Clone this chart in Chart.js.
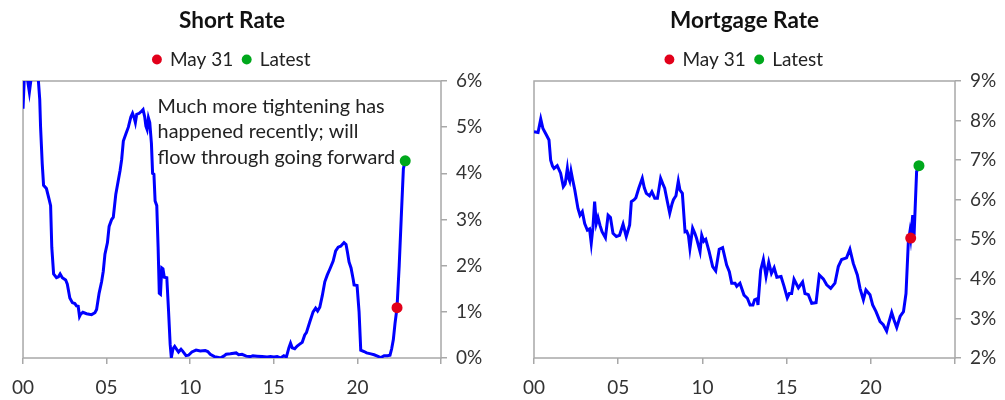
<!DOCTYPE html>
<html>
<head>
<meta charset="utf-8">
<script src="https://cdn.jsdelivr.net/npm/chart.js@4.4.1/dist/chart.umd.min.js"></script>
<style>
  html, body { margin: 0; padding: 0; background: #fff; }
  .panel { position: absolute; top: 0; height: 400px; }
  #left { left: 0; width: 500px; }
  #right { left: 500px; width: 505px; }
</style>
</head>
<body>
<div class="panel" id="left"><canvas id="shortChart" width="500" height="400"></canvas></div>
<div class="panel" id="right"><canvas id="mortgageChart" width="505" height="400"></canvas></div>
<script>
// short rate (decimal years)
const shortYears = [
  2000.00, 2000.08, 2000.20, 2000.30, 2000.38, 2000.50, 2000.70, 2000.90, 2001.00, 2001.05,
  2001.15, 2001.23, 2001.40, 2001.55, 2001.65, 2001.72, 2001.83, 2002.00, 2002.12, 2002.22,
  2002.35, 2002.55, 2002.65, 2002.80, 2002.95, 2003.10, 2003.20, 2003.30, 2003.38, 2003.45,
  2003.58, 2003.80, 2004.10, 2004.30, 2004.40, 2004.55, 2004.70, 2004.80, 2004.90, 2005.05,
  2005.15, 2005.30, 2005.40, 2005.55, 2005.70, 2005.80, 2005.90, 2006.00, 2006.15, 2006.30,
  2006.45, 2006.55, 2006.65, 2006.72, 2006.80, 2006.95, 2007.10, 2007.18, 2007.28, 2007.35,
  2007.42, 2007.50, 2007.58, 2007.68, 2007.75, 2007.83, 2007.90, 2008.00, 2008.08, 2008.15,
  2008.22, 2008.30, 2008.37, 2008.45, 2008.60, 2008.70, 2008.80, 2008.87, 2008.97, 2009.07,
  2009.20, 2009.30, 2009.45, 2009.55, 2009.75, 2009.90, 2010.10, 2010.35, 2010.60, 2010.90,
  2011.05, 2011.20, 2011.45, 2011.70, 2011.80, 2012.00, 2012.15, 2012.40, 2012.75, 2012.90,
  2013.10, 2013.35, 2013.60, 2013.75, 2014.00, 2014.30, 2014.60, 2014.80, 2015.00, 2015.20,
  2015.40, 2015.60, 2015.75, 2015.90, 2016.00, 2016.10, 2016.25, 2016.40, 2016.55, 2016.70,
  2016.85, 2016.95, 2017.15, 2017.35, 2017.50, 2017.62, 2017.75, 2017.90, 2018.05, 2018.20,
  2018.38, 2018.55, 2018.70, 2018.85, 2019.00, 2019.20, 2019.32, 2019.40, 2019.50, 2019.62,
  2019.75, 2019.80, 2019.98, 2020.10, 2020.20, 2020.40, 2020.55, 2020.80, 2021.00, 2021.20,
  2021.40, 2021.60, 2021.80, 2021.95, 2022.05, 2022.15, 2022.25, 2022.37, 2022.50, 2022.62,
  2022.75, 2022.86
];
const shortRates = [
  5.40, 6.10, 6.20, 5.95, 5.76, 6.10, 6.30, 6.10, 5.60, 5.00,
  4.20, 3.74, 3.67, 3.45, 3.30, 2.40, 1.82, 1.74, 1.76, 1.82,
  1.74, 1.69, 1.60, 1.30, 1.20, 1.18, 1.13, 1.12, 0.90, 0.95,
  0.99, 0.96, 0.94, 0.98, 1.05, 1.40, 1.65, 1.88, 2.25, 2.50,
  2.85, 3.00, 3.05, 3.55, 3.85, 4.05, 4.30, 4.70, 4.85, 5.00,
  5.22, 5.30, 5.20, 5.10, 5.28, 5.30, 5.35, 5.38, 5.22, 5.02,
  4.95, 5.20, 5.10, 4.65, 4.00, 3.98, 3.40, 3.30, 2.40, 1.40,
  1.38, 1.95, 1.93, 1.75, 1.74, 1.05, 0.30, 0.01, 0.20, 0.25,
  0.18, 0.13, 0.19, 0.15, 0.05, 0.06, 0.13, 0.17, 0.15, 0.16,
  0.14, 0.08, 0.03, 0.01, 0.00, 0.04, 0.08, 0.09, 0.11, 0.07,
  0.08, 0.04, 0.03, 0.05, 0.04, 0.03, 0.02, 0.03, 0.02, 0.03,
  0.00, 0.05, 0.02, 0.22, 0.32, 0.22, 0.20, 0.26, 0.30, 0.34,
  0.50, 0.55, 0.78, 1.00, 1.08, 1.02, 1.10, 1.35, 1.65, 1.80,
  1.95, 2.10, 2.32, 2.40, 2.42, 2.50, 2.46, 2.30, 2.08, 1.95,
  1.70, 1.58, 1.57, 1.00, 0.17, 0.14, 0.11, 0.09, 0.07, 0.04,
  0.01, 0.05, 0.05, 0.06, 0.20, 0.40, 0.75, 1.09, 2.00, 3.02,
  4.10, 4.27
];

// 30-year mortgage rate
const mortgageYears = [
  2000.00, 2000.24, 2000.40, 2000.53, 2000.73, 2000.89, 2000.99, 2001.10, 2001.19, 2001.38,
  2001.58, 2001.74, 2001.85, 2001.98, 2002.05, 2002.12, 2002.20, 2002.30, 2002.42, 2002.61,
  2002.73, 2002.87, 2003.01, 2003.17, 2003.30, 2003.40, 2003.50, 2003.60, 2003.70, 2003.80,
  2003.92, 2004.04, 2004.24, 2004.40, 2004.54, 2004.69, 2004.89, 2005.08, 2005.29, 2005.48,
  2005.68, 2005.78, 2005.95, 2006.05, 2006.22, 2006.43, 2006.55, 2006.67, 2006.86, 2007.00,
  2007.17, 2007.33, 2007.52, 2007.65, 2007.76, 2007.92, 2008.06, 2008.20, 2008.28, 2008.43,
  2008.57, 2008.67, 2008.81, 2008.97, 2009.07, 2009.17, 2009.26, 2009.42, 2009.55, 2009.65,
  2009.86, 2009.96, 2010.08, 2010.20, 2010.40, 2010.61, 2010.79, 2011.00, 2011.20, 2011.44,
  2011.60, 2011.74, 2011.94, 2012.04, 2012.23, 2012.47, 2012.67, 2012.83, 2013.00, 2013.10,
  2013.25, 2013.30, 2013.46, 2013.62, 2013.78, 2013.94, 2014.10, 2014.26, 2014.42, 2014.67,
  2014.85, 2015.04, 2015.16, 2015.30, 2015.44, 2015.70, 2015.95, 2016.09, 2016.29, 2016.49,
  2016.75, 2016.94, 2017.18, 2017.38, 2017.62, 2017.87, 2018.07, 2018.27, 2018.56, 2018.76,
  2018.96, 2019.20, 2019.36, 2019.56, 2019.71, 2019.95, 2020.11, 2020.31, 2020.55, 2020.74,
  2020.94, 2021.06, 2021.24, 2021.38, 2021.54, 2021.74, 2021.94, 2022.09, 2022.23, 2022.32,
  2022.37, 2022.49, 2022.57, 2022.72, 2022.86
];
const mortgageRates = [
  7.72, 7.70, 8.04, 7.80, 7.64, 7.51, 7.00, 6.85, 6.79, 6.86,
  6.67, 6.33, 6.40, 6.79, 6.55, 6.47, 6.72, 6.50, 6.25, 5.78,
  5.61, 5.70, 5.40, 5.23, 5.26, 4.90, 5.30, 5.95, 5.40, 5.55,
  5.35, 5.19, 5.04, 5.61, 5.55, 5.15, 5.07, 5.10, 5.38, 5.07,
  5.36, 5.95, 6.00, 6.05, 6.29, 6.54, 6.30, 6.16, 6.10, 6.20,
  6.04, 6.04, 6.54, 6.40, 6.29, 5.95, 5.66, 5.90, 6.00, 6.10,
  6.47, 6.24, 6.16, 5.19, 5.20, 5.10, 4.77, 5.28, 5.15, 5.03,
  4.69, 5.10, 4.95, 5.00, 4.69, 4.31, 4.20, 4.75, 4.79, 4.35,
  4.18, 3.89, 3.89, 3.81, 3.89, 3.59, 3.51, 3.34, 3.34, 3.47,
  3.50, 3.34, 4.22, 4.49, 4.06, 4.42, 4.14, 4.28, 4.04, 4.06,
  3.81, 3.52, 3.63, 3.63, 3.99, 3.77, 3.92, 3.63, 3.60, 3.38,
  3.40, 4.10, 4.00, 3.85, 3.76, 3.89, 4.31, 4.49, 4.53, 4.75,
  4.39, 4.10, 3.76, 3.47, 3.72, 3.60, 3.34, 3.17, 2.92, 2.84,
  2.68, 2.88, 3.15, 2.96, 2.77, 3.05, 3.17, 3.63, 4.94, 5.19,
  5.03, 5.61, 5.10, 6.71, 6.86
];

const markerLabels = ['May 31', 'Latest'];
const markerYears = [2022.37, 2022.86];
const shortMarkers = [1.09, 4.27];
const mortgageMarkers = [5.03, 6.86];
const markerColors = ['#e2001a', '#00a81c'];

const noteLines = ['Much more tightening has', 'happened recently; will', 'flow through going forward'];

const FONT = 'Lato, "Open Sans", sans-serif';
const AXIS_GREY = '#a8a8a8';

// grey box around the plot area
const framePlugin = {
  id: 'frame',
  beforeDatasetsDraw(chart) {
    const {ctx, chartArea: a} = chart;
    ctx.save();
    ctx.strokeStyle = AXIS_GREY;
    ctx.lineWidth = 1.5;
    ctx.strokeRect(a.left, a.top, a.right - a.left, a.bottom - a.top);
    ctx.restore();
  }
};

// annotation text placed in data coordinates
const notePlugin = {
  id: 'note',
  afterDatasetsDraw(chart, args, opts) {
    if (!opts.lines) return;
    const {ctx, scales} = chart;
    const left = scales.x.getPixelForValue(opts.at[0]);
    const base = scales.y.getPixelForValue(opts.at[1]);
    ctx.save();
    ctx.font = '19.8px ' + FONT;
    ctx.fillStyle = '#222';
    opts.lines.forEach((t, i) => ctx.fillText(t, left, base + i * 25.5));
    ctx.restore();
  }
};

function makeChart(id, title, years, rates, markers, yMin, yMax, padLeft, axisWidth, note) {
  const datasets = [{
    label: title,
    data: years.map((x, i) => ({x, y: rates[i]})),
    showLine: true,
    borderColor: '#0000ff',
    borderWidth: 3,
    pointRadius: 0,
    tension: 0,
    order: 2
  }];
  markerLabels.forEach((lab, i) => {
    datasets.push({
      label: lab,
      data: [{x: markerYears[i], y: markers[i]}],
      pointStyle: 'circle',
      pointRadius: 5.5,
      backgroundColor: markerColors[i],
      borderColor: markerColors[i],
      borderWidth: 0,
      order: 1
    });
  });

  const tickFont = {family: FONT, size: 19};
  const grid = {drawOnChartArea: false, drawTicks: true, tickLength: 6, color: AXIS_GREY, lineWidth: 1.5};

  return new Chart(document.getElementById(id), {
    type: 'scatter',
    data: {datasets},
    options: {
      responsive: false,
      animation: false,
      layout: {padding: {left: padLeft, right: 0, top: 4, bottom: 0}},
      plugins: {
        title: {
          display: true,
          text: title,
          fullSize: false,
          color: '#111',
          font: {family: FONT, size: 22.5, weight: 'bold'},
          padding: {top: 3, bottom: 6}
        },
        legend: {
          fullSize: false,
          labels: {
            filter: item => item.datasetIndex > 0,
            usePointStyle: true,
            pointStyle: 'circle',
            boxWidth: 7,
            boxHeight: 7,
            padding: 10,
            color: '#222',
            font: {family: FONT, size: 19}
          }
        },
        tooltip: {enabled: false},
        note: note || {}
      },
      scales: {
        x: {
          type: 'linear',
          min: 2000,
          max: 2025,
          grid,
          border: {display: false},
          ticks: {
            stepSize: 5,
            autoSkip: false,
            maxRotation: 0,
            padding: 12,
            color: '#333',
            font: tickFont,
            callback: v => v < 2025 ? String(v).slice(2) : ''
          },
          afterFit: s => { s.height = 42; }
        },
        // empty strip that keeps a little room between legend and plot
        gap: {
          type: 'linear',
          position: 'top',
          axis: 'x',
          min: 0,
          max: 1,
          grid: {display: false},
          border: {display: false},
          ticks: {display: false},
          afterFit: s => { s.height = 2; }
        },
        y: {
          position: 'right',
          min: yMin,
          max: yMax,
          grid,
          border: {display: false},
          ticks: {
            stepSize: 1,
            padding: 9,
            color: '#333',
            font: tickFont,
            callback: v => v + '%'
          },
          afterFit: s => { s.width = axisWidth; }
        }
      }
    },
    plugins: [framePlugin, notePlugin]
  });
}

makeChart('shortChart', 'Short Rate', shortYears, shortRates, shortMarkers, 0, 6, 21, 59,
  {lines: noteLines, at: [2008.05, 5.45]});
makeChart('mortgageChart', 'Mortgage Rate', mortgageYears, mortgageRates, mortgageMarkers, 2, 9, 34, 50);
</script>
</body>
</html>
